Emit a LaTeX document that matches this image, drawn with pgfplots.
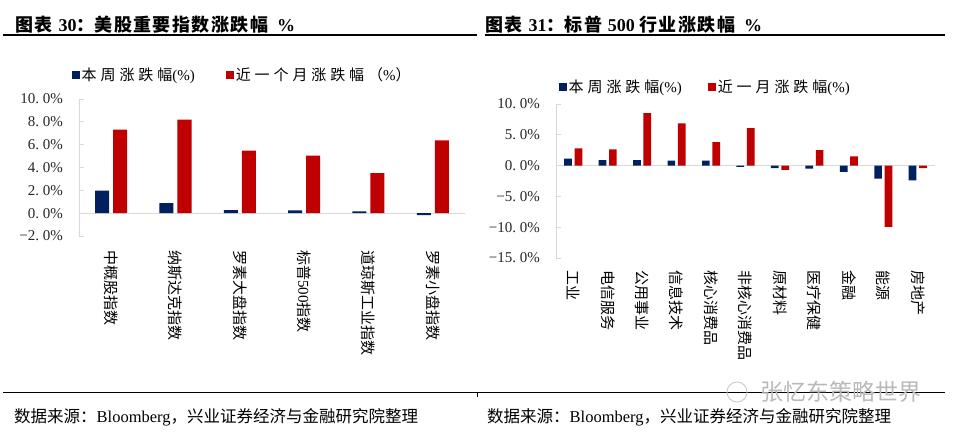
\documentclass[border=0pt]{standalone}
\usepackage{fontspec}
\setmainfont{Liberation Serif}
\newfontfamily\cjk{Noto Sans CJK SC}
\newfontfamily\cjkl{Noto Sans CJK SC}[LetterSpace=26]
\newfontfamily\cjkt{Noto Sans CJK SC}[LetterSpace=8]
\usepackage{pgfplots}
\pgfplotsset{compat=1.18}
\definecolor{navy}{HTML}{002060}
\definecolor{bred}{HTML}{C00000}
\definecolor{axgray}{HTML}{D9D9D9}
\newcommand{\fs}[1]{\fontsize{#1bp}{#1bp}\selectfont}
\pgfplotsset{
  common/.style={
    scale only axis,
    axis lines=left,
    axis line style={-},
    x axis line style={draw=none},
    y axis line style={axgray, line width=0.8bp},
    enlargelimits=false,
    xtick=data,
    xtick style={draw=none},
    ytick style={axgray, line width=0.8bp},
    tick align=inside,
    major tick length=5bp,
    extra y ticks={0},
    extra y tick labels={},
    extra y tick style={grid=major, major grid style={axgray, line width=1bp}, major tick length=0pt},
    yticklabel style={font=\fs{15}, color=black!85, inner sep=0pt, xshift=-16bp},
    legend columns=2,
    legend cell align=left,
    legend image code/.code={\fill[##1] (0bp,-4bp) rectangle (8bp,4bp);},
  }
}
\begin{document}
\begin{tikzpicture}
\path[use as bounding box] (0bp,0bp) rectangle (954bp,435bp);
% titles
\node[anchor=west, inner sep=0pt] at (15bp,410bp) {\fs{18}{\cjkt\bfseries 图表} \textbf{30}{\cjk\bfseries ：}{\cjkt\bfseries 美股重要指数涨跌幅}\ \ \textbf{\%}};
\node[anchor=west, inner sep=0pt] at (485bp,410bp) {\fs{18}{\cjkt\bfseries 图表} \textbf{31}{\cjk\bfseries ：}{\cjkt\bfseries 标普} \textbf{500} {\cjkt\bfseries 行业涨跌幅}\ \ \textbf{\%}};
\draw[line width=1.2bp] (3bp,400bp) -- (477bp,400bp);
\draw[line width=1.2bp] (485bp,400bp) -- (945bp,400bp);
\draw[line width=1bp] (3bp,42bp) -- (945bp,42bp);
\draw[line width=0.6bp] (477bp,42bp) -- (477bp,38bp);
\node[anchor=west, inner sep=0pt] at (14bp,18bp) {\fs{16.5}{\cjk 数据来源：}Bloomberg{\cjk ，兴业证券经济与金融研究院整理}};
\node[anchor=west, inner sep=0pt] at (487bp,18bp) {\fs{16.5}{\cjk 数据来源：}Bloomberg{\cjk ，兴业证券经济与金融研究院整理}};
\draw[gray!45, line width=0.8bp] (737bp,43bp) circle (10bp);
\node[anchor=west, inner sep=0pt, text=gray!55] at (760bp,43bp) {\fs{23}{\cjk 张忆东策略世界}};

% left chart
\begin{axis}[common,
  at={(79bp,199bp)}, anchor=south west,
  width=386bp, height=137bp,
  xmin=-0.5, xmax=5.5, ymin=-2, ymax=10,
  ytick={-2,0,2,4,6,8,10},
  yticklabels={−2.\hspace{0.25em}0\%,0.\hspace{0.25em}0\%,2.\hspace{0.25em}0\%,4.\hspace{0.25em}0\%,6.\hspace{0.25em}0\%,8.\hspace{0.25em}0\%,10.\hspace{0.25em}0\%},
  xticklabel style={font=\fs{15}, color=black, inner sep=0pt, yshift=-14bp, rotate=-90, anchor=west},
  xticklabels={{\cjk 中概股指数},{\cjk 纳斯达克指数},{\cjk 罗素大盘指数},{{\cjk 标普}500{\cjk 指数}},{\cjk 道琼斯工业指数},{\cjk 罗素小盘指数}},
  legend style={at={(axis description cs:-0.018,1.175)}, anchor=west, draw=none, fill=none,
    font=\fs{15}, inner sep=0pt, nodes={inner sep=1.5bp},
    /tikz/every even column/.append style={column sep=30bp}},
]
\addplot[ybar, fill=navy, draw=none, bar width=14bp, bar shift=-9bp] coordinates {(0,1.97) (1,0.88) (2,0.26) (3,0.24) (4,0.15) (5,-0.18)};
\addlegendentry{{\cjkl 本周涨跌幅}(\%)}
\addplot[ybar, fill=bred, draw=none, bar width=14bp, bar shift=9bp] coordinates {(0,7.32) (1,8.2) (2,5.47) (3,5.03) (4,3.5) (5,6.38)};
\addlegendentry{{\cjkl 近一个月涨跌幅（}\%{\cjkl ）}}
\end{axis}

% right chart
\begin{axis}[common,
  at={(556bp,177bp)}, anchor=south west,
  width=379bp, height=154bp,
  xmin=-0.5, xmax=10.5, ymin=-15, ymax=10,
  ytick={-15,-10,-5,0,5,10},
  yticklabels={−15.\hspace{0.25em}0\%,−10.\hspace{0.25em}0\%,−5.\hspace{0.25em}0\%,0.\hspace{0.25em}0\%,5.\hspace{0.25em}0\%,10.\hspace{0.25em}0\%},
  xticklabel style={font=\fs{15}, color=black, inner sep=0pt, yshift=-12bp, rotate=-90, anchor=west},
  xticklabels={{\cjk 工业},{\cjk 电信服务},{\cjk 公用事业},{\cjk 信息技术},{\cjk 核心消费品},{\cjk 非核心消费品},{\cjk 原材料},{\cjk 医疗保健},{\cjk 金融},{\cjk 能源},{\cjk 房地产}},
  legend style={at={(axis description cs:0.008,1.11)}, anchor=west, draw=none, fill=none,
    font=\fs{15}, inner sep=0pt, nodes={inner sep=1.5bp},
    /tikz/every even column/.append style={column sep=25bp}},
]
\addplot[ybar, fill=navy, draw=none, bar width=7.7bp, bar shift=-5.2bp] coordinates {(0,1.14) (1,0.9) (2,0.9) (3,0.8) (4,0.8) (5,-0.2) (6,-0.4) (7,-0.5) (8,-1.0) (9,-2.1) (10,-2.4)};
\addlegendentry{{\cjkl 本周涨跌幅}(\%)}
\addplot[ybar, fill=bred, draw=none, bar width=7.7bp, bar shift=5.2bp] coordinates {(0,2.8) (1,2.65) (2,8.5) (3,6.85) (4,3.8) (5,6.1) (6,-0.7) (7,2.5) (8,1.5) (9,-9.95) (10,-0.4)};
\addlegendentry{{\cjkl 近一月涨跌幅}(\%)}
\end{axis}
\end{tikzpicture}
\end{document}
